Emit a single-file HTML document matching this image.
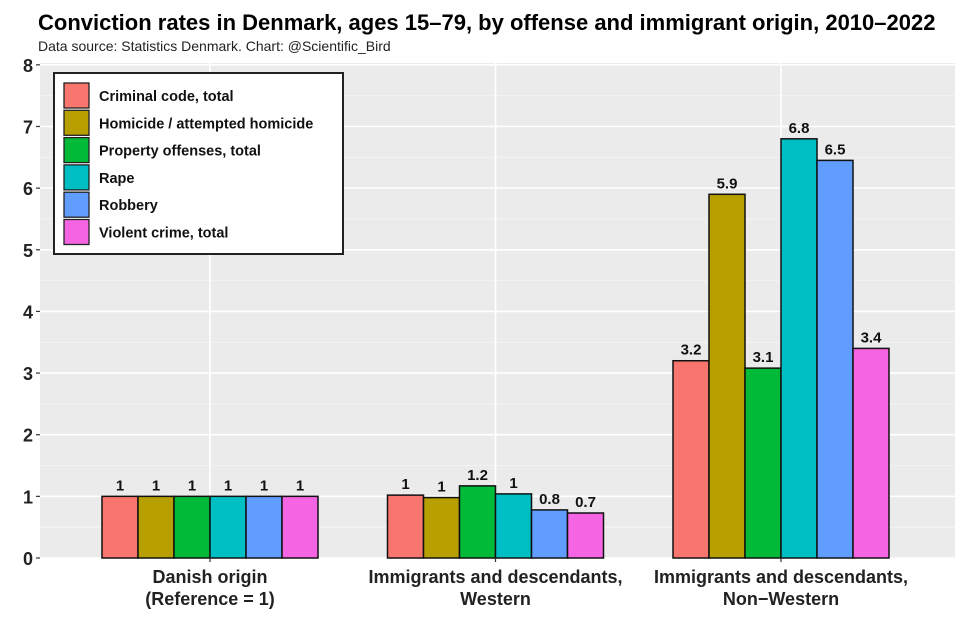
<!DOCTYPE html>
<html><head><meta charset="utf-8"><style>
body{margin:0;background:#fff;}
svg{display:block;font-family:"Liberation Sans",Arial,sans-serif;}
</style></head><body>
<svg id="c" width="968" height="631">
<text x="38" y="30" font-size="22" font-weight="bold" fill="#000">Conviction rates in Denmark, ages 15–79, by offense and immigrant origin, 2010–2022</text>
<text x="38" y="51" font-size="14" fill="#222">Data source: Statistics Denmark. Chart: @Scientific_Bird</text>
</svg>
<script>
const categories=["Danish origin|(Reference = 1)","Immigrants and descendants,|Western","Immigrants and descendants,|Non\u2212Western"];
const series=["Criminal code, total","Homicide / attempted homicide","Property offenses, total","Rape","Robbery","Violent crime, total"];
const colors=["#f8766d","#b79f00","#00ba38","#00bfc4","#619cff","#f564e3"];
const danish=[1,1,1,1,1,1];
const western=[1.02,0.98,1.17,1.04,0.78,0.73];
const nonWestern=[3.2,5.9,3.08,6.8,6.45,3.4];
const labelsDanish=["1","1","1","1","1","1"];
const labelsWestern=["1","1","1.2","1","0.8","0.7"];
const labelsNonWestern=["3.2","5.9","3.1","6.8","6.5","3.4"];
const yTicks=[0,1,2,3,4,5,6,7,8];
const values=[danish,western,nonWestern];
const labels=[labelsDanish,labelsWestern,labelsNonWestern];

const NS="http://www.w3.org/2000/svg";
const svg=document.getElementById("c");
const L=40,R=955,T=63,B=558,yMax=8.03;
const y=v=>B-(v/yMax)*(B-T);
const x=i=>210+285.5*i;
const barW=36;
function el(t,a,p){const e=document.createElementNS(NS,t);for(const k in a)e.setAttribute(k,a[k]);(p||svg).appendChild(e);return e;}

const panel=el("rect",{x:L,y:T,width:R-L,height:B-T,fill:"#ebebeb"});


for(let i=0;i<yTicks.length-1;i++){
  const g=el("line",{x1:L,x2:R,y1:y(yTicks[i]+0.5),y2:y(yTicks[i]+0.5),stroke:"#f5f5f5","stroke-width":0.8});
  
  
}
yTicks.forEach(t=>{
  const g=el("line",{x1:L,x2:R,y1:y(t),y2:y(t),stroke:"#fff","stroke-width":1.6});
  
  
  el("line",{x1:L-4,x2:L,y1:y(t),y2:y(t),stroke:"#333","stroke-width":1.2});
  const tx=el("text",{x:L-7,y:y(t)+7,"font-size":18,"font-weight":"bold","text-anchor":"end",fill:"#222"});
  tx.textContent=t;
  
  
});
categories.forEach((c,i)=>{
  const cx=x(i);
  const gl=el("line",{x1:cx,x2:cx,y1:T,y2:B,stroke:"#fff","stroke-width":1.6});
  
  
});
categories.forEach((c,i)=>{
  const cx=x(i);
  values[i].forEach((v,j)=>{
    const bx=cx-3*barW+j*barW;
    const r=el("rect",{x:bx,y:y(v),width:barW,height:B-y(v),fill:colors[j],stroke:"#111","stroke-width":1.5});
    
    
    const t=el("text",{x:bx+barW/2,y:y(v)-6,"font-size":15,"font-weight":"bold","text-anchor":"middle",fill:"#111"});
    t.textContent=labels[i][j];
    
    
  });
  el("line",{x1:cx,x2:cx,y1:B,y2:B+4,stroke:"#333","stroke-width":1.2});
  c.split("|").forEach((ln,k)=>{
    const t=el("text",{x:cx,y:B+25+k*22,"font-size":18,"font-weight":"bold","text-anchor":"middle",fill:"#222"});
    t.textContent=ln;
    
    
  });
});
const lg=el("g",{});


el("rect",{x:54,y:73,width:289,height:181,fill:"#fff",stroke:"#222","stroke-width":2},lg);
series.forEach((s,j)=>{
  const yy=83+j*27.3;
  const k=el("rect",{x:64,y:yy,width:25,height:25,fill:colors[j],stroke:"#222","stroke-width":1.3},lg);
  
  
  const t=el("text",{x:99,y:yy+18,"font-size":14.5,"font-weight":"bold",fill:"#111"},lg);
  t.textContent=s;
  
  
});
</script>
</body></html>
